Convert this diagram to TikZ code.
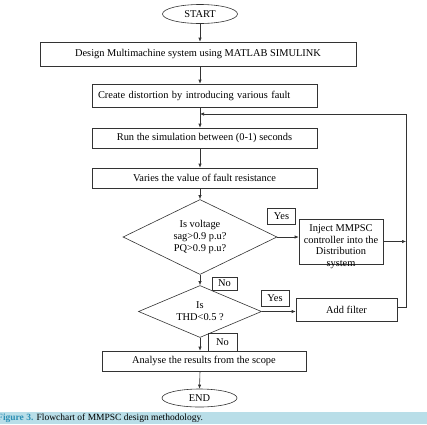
\documentclass[tikz,border=0pt]{standalone}
\usepackage{fontspec}
\setmainfont{Liberation Serif}
\usetikzlibrary{positioning,arrows.meta,calc,shapes.geometric}
\definecolor{capband}{HTML}{B9DEE8}
\definecolor{capblue}{HTML}{2C8FB4}

\begin{document}
\begin{tikzpicture}[
        x=1pt, y=-1pt,
        font=\fontsize{10.4}{12}\selectfont,
        box/.style={
            draw=black!80,
            line width=0.6pt,
            minimum height=20pt,
            align=center,
            inner sep=2pt
        },
        oval/.style={
            box,
            ellipse,
            minimum width=75pt,
            minimum height=19pt
        },
        decision/.style={
            box,
            diamond,
            aspect=2,
            inner sep=0pt
        },
        tag/.style={
            draw=black!80,
            line width=0.6pt,
            inner sep=0pt,
            minimum height=16pt,
            minimum width=28pt
        },
        arr/.style={
            -{Latex[length=4pt,width=3.4pt]},
            line width=0.6pt,
            draw=black!80
        },
        line/.style={
            line width=0.6pt,
            draw=black!80
        }
    ]
    \useasboundingbox (0,0) rectangle (427,424);

    % =========================
    % Main column
    % =========================
    \node[oval] (start) at (200,14) {START};
    \node[box, minimum width=316pt, minimum height=24pt] (design) at (198,54)
        {Design Multimachine system using MATLAB SIMULINK};
    \node[box, text width=213pt, inner xsep=6pt, align=left, minimum height=23pt] (distort) at (204.5,95.5)
        {Create distortion by introducing various fault};
    \node[box, minimum width=225pt] (run) at (204.5,138)
        {Run the simulation between (0-1) seconds};
    \node[box, minimum width=225pt] (varies) at (204.5,178)
        {Varies the value of fault resistance};

    \node[decision, minimum width=154pt, minimum height=75pt] (sag) at (200,237)
        {Is voltage\\sag>0.9 p.u?\\PQ>0.9 p.u?};
    \node[decision, minimum width=123pt, minimum height=52pt] (thd) at (200,311.5)
        {Is\\THD<0.5 ?};

    \node[box, minimum width=204pt] (analyse) at (204,361)
        {Analyse the results from the scope};
    \node[oval, minimum height=18pt] (end) at (199.5,398) {END};

    % =========================
    % Right branch
    % =========================
    \node[box, minimum width=84pt, minimum height=45pt,
          label={[align=center, yshift=-5pt, inner sep=0pt, font=\fontsize{10.4}{11.6}\selectfont]center:Inject MMPSC\\controller into the\\Distribution\\system}]
        (inject) at (341,241.5) {};
    \node[box, minimum width=101pt, minimum height=23pt] (filter) at (346.5,309.5) {Add filter};
    \coordinate (loopx) at (406,0);
    \coordinate (loopin) at (200,114);

    % labels
    \node[tag] (yes1) at (281.5,216.5) {Yes};
    \node[tag, minimum width=25pt, minimum height=13pt] (no1) at (224.5,283.5) {No};
    \node[tag] (yes2) at (275,298) {Yes};
    \node[tag, minimum width=29pt, minimum height=18pt] (no2) at (222.5,342) {No};

    % =========================
    % Connectors
    % =========================
    \draw[arr] (start.south) -- (start.south |- design.north);
    \draw[arr] (start.south |- design.south) -- (start.south |- distort.north);
    \draw[arr] (start.south |- distort.south) -- (start.south |- run.north);
    \draw[arr] (start.south |- run.south) -- (start.south |- varies.north);
    \draw[arr] (start.south |- varies.south) -- (sag.north);
    \draw[arr] (sag.south) -- (thd.north);
    \draw[arr] (thd.south) -- (thd.south |- analyse.north);
    \draw[arr] (start.south |- analyse.south) -- (end.north);

    \draw[arr] (sag.east) -- (sag.east -| inject.west);
    \draw[arr] (thd.east) -- (thd.east -| filter.west);
    \draw[arr] (inject.east) -- (inject.east -| loopx);
    \draw[line] ($(filter.east)+(0,-2)$) -| (loopx |- loopin);
    \draw[arr] (loopx |- loopin) -- (loopin);

    % =========================
    % Caption
    % =========================
    \fill[capband] (0,412) rectangle (427,424);
    \node[anchor=west, inner sep=0pt, font=\fontsize{9.5}{10}\selectfont] (caption) at (-3,418)
        {\textcolor{capblue}{\textbf{Figure 3.}} Flowchart of MMPSC design methodology.};

\end{tikzpicture}
\end{document}
